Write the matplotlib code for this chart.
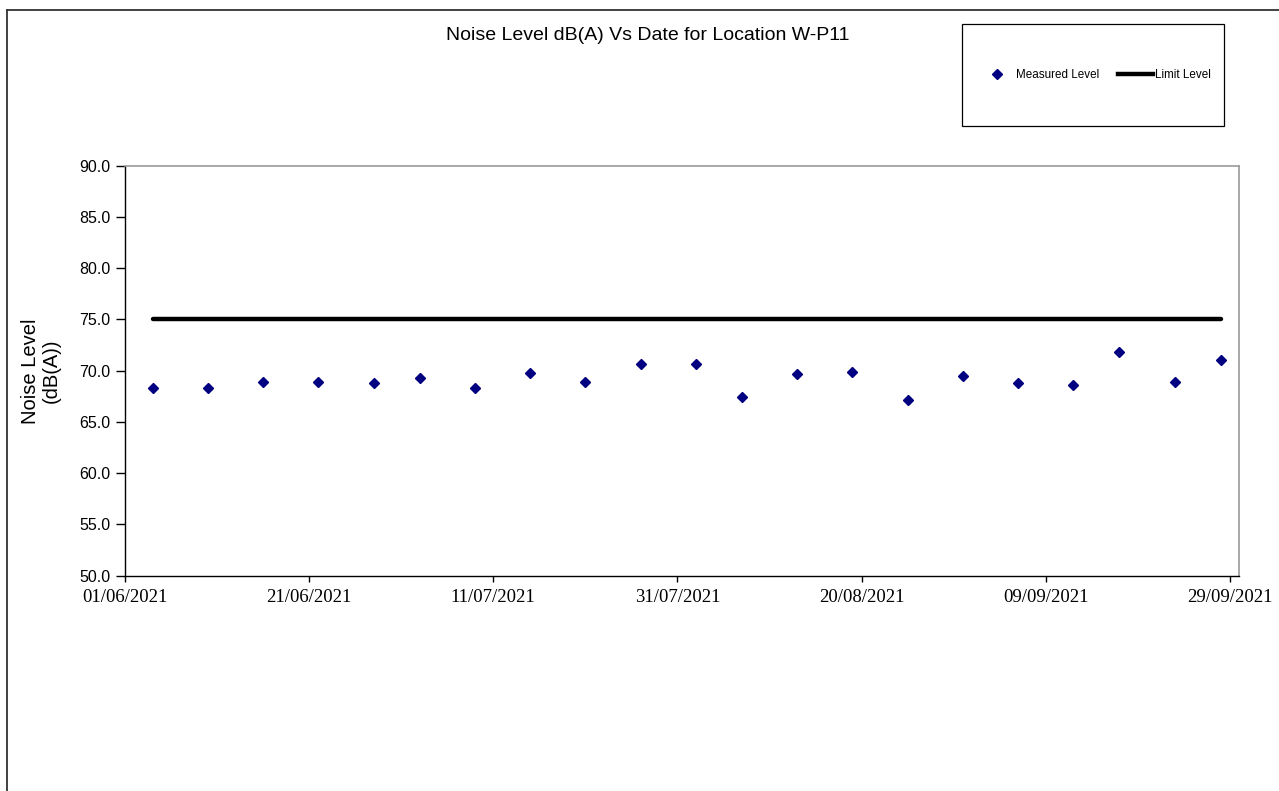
import matplotlib
matplotlib.use("Agg")
import matplotlib.pyplot as plt
from matplotlib.lines import Line2D
from matplotlib.patches import Rectangle
import datetime as dt

# Monitoring data for location W-P11
measure_dates = ["04/06/2021", "10/06/2021", "16/06/2021", "22/06/2021", "28/06/2021",
                 "03/07/2021", "09/07/2021", "15/07/2021", "21/07/2021", "27/07/2021",
                 "02/08/2021", "07/08/2021", "13/08/2021", "19/08/2021", "25/08/2021",
                 "31/08/2021", "06/09/2021", "12/09/2021", "17/09/2021", "23/09/2021",
                 "28/09/2021"]
measured_levels = [68.3, 68.3, 68.9, 68.9, 68.8,
                   69.3, 68.3, 69.8, 68.9, 70.7,
                   70.7, 67.4, 69.7, 69.9, 67.1,
                   69.5, 68.8, 68.6, 71.8, 68.9,
                   71.0]
limit_levels = [75.0] * len(measure_dates)

x_start, x_end = "01/06/2021", "30/09/2021"
x_tick_labels = ["01/06/2021", "21/06/2021", "11/07/2021", "31/07/2021",
                 "20/08/2021", "09/09/2021", "29/09/2021"]
y_ticks = [50.0, 55.0, 60.0, 65.0, 70.0, 75.0, 80.0, 85.0, 90.0]

title_text = "Noise Level dB(A) Vs Date for Location W-P11"
y_label = "Noise Level\n(dB(A))"
series_labels = ["Measured Level", "Limit Level"]


def parse(d):
    return dt.datetime.strptime(d, "%d/%m/%Y")


dates = [parse(d) for d in measure_dates]

W, H = 1279, 791
fig = plt.figure(figsize=(W / 100, H / 100), dpi=100)
fig.patch.set_facecolor("white")

sans = ["Liberation Sans", "Arial", "DejaVu Sans"]
serif = ["Liberation Serif", "Times New Roman", "DejaVu Serif"]

ax = fig.add_axes([125 / W, 1 - 575.7 / H, (1239 - 125) / W, (575.7 - 165.7) / H])

marker_color = "#000080"
ax.plot(dates, limit_levels, color="black", lw=3.2, solid_capstyle="round", zorder=2)
ax.plot(dates, measured_levels, ls="none", marker="D", ms=4.6, color=marker_color,
        mec=marker_color, zorder=3)

ax.set_xlim(parse(x_start), parse(x_end))
ax.set_ylim(50, 90)
ax.set_yticks(y_ticks)
ax.set_yticklabels([f"{v:.1f}" for v in y_ticks], fontfamily=sans, fontsize=11.5)
ax.set_xticks([parse(d) for d in x_tick_labels])
ax.set_xticklabels(x_tick_labels, fontfamily=serif, fontsize=13.5)

ax.tick_params(axis="y", direction="out", length=6.5, width=1, pad=4, colors="black")
ax.tick_params(axis="x", direction="out", length=4, width=1, pad=5.5, colors="black")

for side in ("left", "bottom"):
    ax.spines[side].set_color("black")
    ax.spines[side].set_linewidth(1.0)
for side in ("top", "right"):
    ax.spines[side].set_color("#999999")
    ax.spines[side].set_linewidth(1.2)

# Titles and axis label
fig.text(648 / W, 1 - 35.5 / H, title_text, ha="center", va="center",
         fontfamily=sans, fontsize=14)
fig.text(41 / W, 1 - 371 / H, y_label, ha="center", va="center", rotation=90,
         multialignment="center", fontfamily=sans, fontsize=14.5, linespacing=1.1)

# Legend box
fig.patches.append(Rectangle((962 / W, 1 - 126 / H), (1224 - 962) / W, (126 - 24) / H,
                             transform=fig.transFigure, fill=False, ec="black", lw=0.9))
handles = [Line2D([], [], ls="none", marker="D", ms=4.6, color=marker_color),
           Line2D([], [], color="black", lw=3.2)]
fig.legend(handles, series_labels, ncol=2, frameon=False, loc="center",
           bbox_to_anchor=(1095 / W, 1 - 75 / H), prop={"family": sans, "size": 8.4},
           handlelength=3.0, handletextpad=0.15, columnspacing=1.6, borderpad=0)

# Outer chart-area frame
fig.lines.append(Line2D([7 / W, 7 / W], [1 - 10 / H, 0], transform=fig.transFigure,
                        color="#333333", lw=1.3))
fig.lines.append(Line2D([7 / W, 1], [1 - 10 / H, 1 - 10 / H], transform=fig.transFigure,
                        color="#333333", lw=1.3))

fig.savefig("out.png", dpi=100, facecolor="white")
